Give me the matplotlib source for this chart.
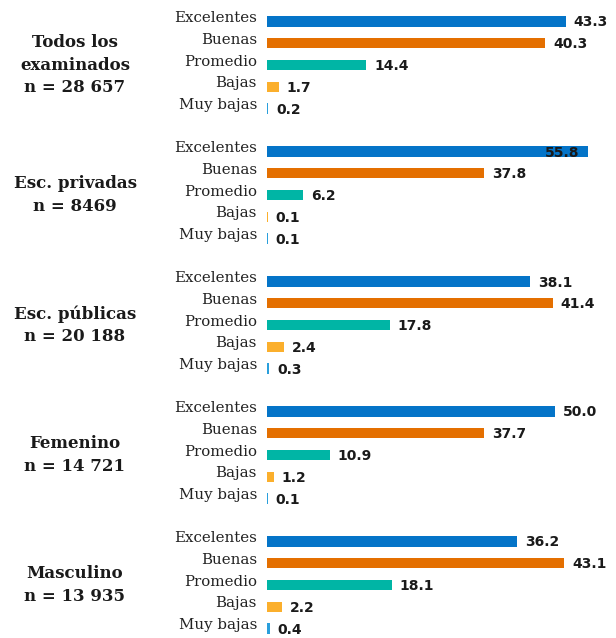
import matplotlib
matplotlib.use("Agg")
import matplotlib.pyplot as plt
from matplotlib.transforms import ScaledTranslation, blended_transform_factory

categories = ["Excelentes", "Buenas", "Promedio", "Bajas", "Muy bajas"]
groups = ["Todos los\nexaminados\nn = 28 657",
          "Esc. privadas\nn = 8469",
          "Esc. públicas\nn = 20 188",
          "Femenino\nn = 14 721",
          "Masculino\nn = 13 935"]
todos = [43.3, 40.3, 14.4, 1.7, 0.2]
privadas = [55.8, 37.8, 6.2, 0.1, 0.1]
publicas = [38.1, 41.4, 17.8, 2.4, 0.3]
femenino = [50.0, 37.7, 10.9, 1.2, 0.1]
masculino = [36.2, 43.1, 18.1, 2.2, 0.4]
series = [todos, privadas, publicas, femenino, masculino]

colors = ["#0474C8", "#E46F00", "#00B5A5", "#FBAF2C", "#2A9FDC"]

W, H = 616, 638
fig = plt.figure(figsize=(W / 100, H / 100), dpi=100)

serif = ["DejaVu Serif"]
left_px, width_px = 267, 345
spacing = 21.75
for g, (name, vals) in enumerate(zip(groups, series)):
    first_center = 21.5 + 130 * g
    top = first_center - spacing / 2
    hgt = spacing * 5
    ax = fig.add_axes([left_px / W, 1 - (top + hgt) / H, width_px / W, hgt / H])
    xmax = 60 if max(vals) > 45 else 50
    ax.barh(range(5), vals, height=0.48, color=colors)
    ax.set_xlim(0, xmax)
    ax.set_ylim(4.5, -0.5)
    for s in ax.spines.values():
        s.set_visible(False)
    ax.set_xticks([])
    ax.set_yticks(range(5), categories)
    ax.tick_params(axis="y", length=0, pad=7.2)
    for lab in ax.get_yticklabels():
        lab.set_fontfamily(serif)
        lab.set_fontsize(10.8)
        lab.set_color("#222222")
        lab.set_transform(lab.get_transform() + ScaledTranslation(0, 5 / 100, fig.dpi_scale_trans))
    for i, v in enumerate(vals):
        inside = v / xmax > 0.9
        ax.annotate(f"{v:.1f}", xy=(v, i), xytext=(-8 if inside else 8, -1),
                    textcoords="offset pixels", ha="right" if inside else "left",
                    va="center", fontsize=10, fontweight="bold",
                    family=["DejaVu Sans"], color="#1a1a1a")
    tr = blended_transform_factory(fig.transFigure, ax.transAxes)
    ax.text(75 / W, 0.5, name, transform=tr, ha="center", va="center",
            multialignment="center", fontsize=12, fontweight="bold",
            family=serif, color="#1a1a1a", linespacing=1.4)

fig.savefig("out.png", dpi=100)
